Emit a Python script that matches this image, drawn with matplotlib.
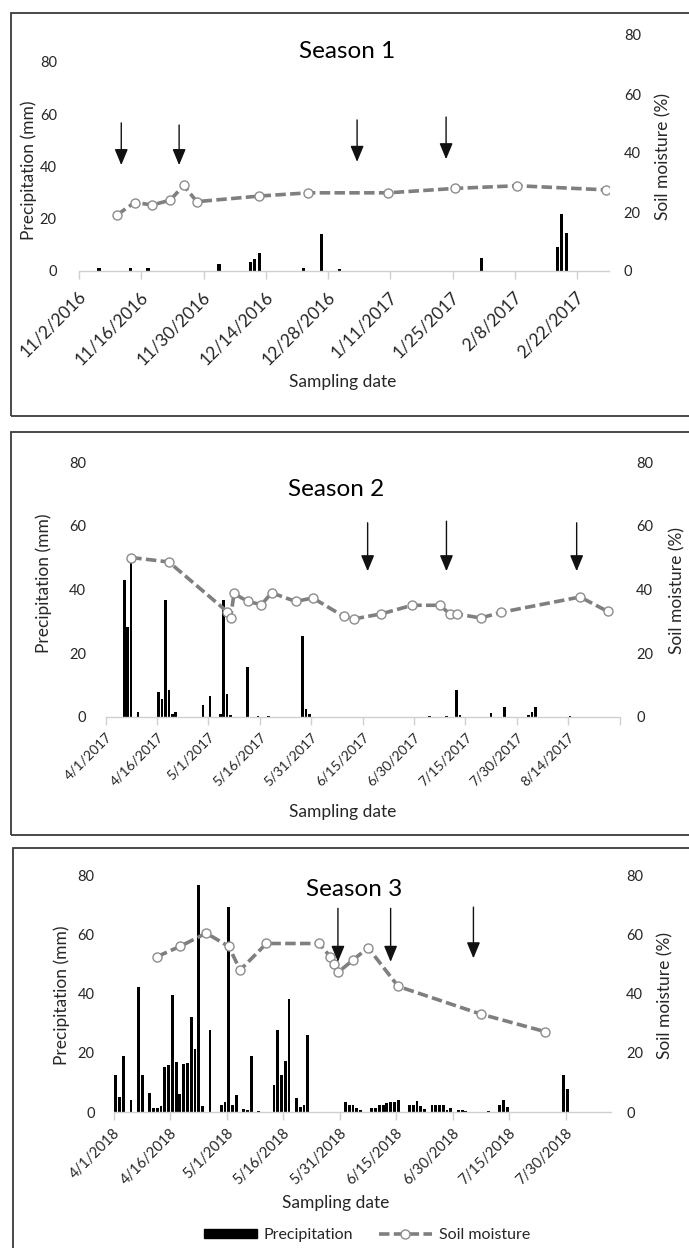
import matplotlib
matplotlib.use("Agg")
import matplotlib.pyplot as plt
from matplotlib.lines import Line2D
from matplotlib.patches import Patch, Rectangle
from matplotlib.transforms import ScaledTranslation
import pandas as pd

plt.rcParams["font.family"] = ["Lato", "DejaVu Sans"]

TEXT = "#262626"
LINE = "#7f7f7f"
AXIS = "#d0d0d0"

# ---- Season 1 (Nov 2016 - Feb 2017)
s1_rain_dates = ["11/6/2016", "11/13/2016", "11/17/2016", "12/3/2016", "12/10/2016",
                 "12/11/2016", "12/12/2016", "12/22/2016", "12/26/2016", "12/30/2016",
                 "1/31/2017", "2/17/2017", "2/18/2017", "2/19/2017"]
s1_rain_mm = [1.2, 1.2, 1.2, 2.7, 3.3, 4.5, 6.8, 1.2, 14.1, 0.8, 5.1, 9.3, 21.7, 14.4]
s1_soil_dates = ["11/10/2016", "11/14/2016", "11/18/2016", "11/22/2016", "11/25/2016",
                 "11/28/2016", "12/12/2016", "12/23/2016", "1/10/2017", "1/25/2017",
                 "2/8/2017", "2/28/2017"]
s1_soil_pct = [19.0, 23.2, 22.4, 24.0, 29.0, 23.5, 25.4, 26.5, 26.5, 28.0, 28.9, 27.5]
s1_arrow_dates = ["11/11/2016", "11/24/2016", "1/3/2017", "1/23/2017"]
s1_arrow_top = [50.2, 49.5, 51.2, 52.2]
s1_arrow_tip = [35.9, 35.9, 37.0, 37.9]
s1_tick_labels = ["11/2/2016", "11/16/2016", "11/30/2016", "12/14/2016", "12/28/2016",
                  "1/11/2017", "1/25/2017", "2/8/2017", "2/22/2017"]
s1_x_end = "3/1/2017"

# ---- Season 2 (Apr - Aug 2017)
s2_rain_dates = ["4/6/2017", "4/7/2017", "4/8/2017", "4/10/2017", "4/16/2017", "4/17/2017",
                 "4/18/2017", "4/19/2017", "4/20/2017", "4/21/2017", "4/29/2017", "5/1/2017",
                 "5/4/2017", "5/5/2017", "5/6/2017", "5/7/2017", "5/12/2017", "5/15/2017",
                 "5/18/2017", "5/28/2017", "5/29/2017", "5/30/2017", "7/4/2017", "7/9/2017",
                 "7/12/2017", "7/13/2017", "7/22/2017", "7/26/2017", "8/2/2017", "8/3/2017",
                 "8/4/2017", "8/14/2017"]
s2_rain_mm = [43.0, 28.3, 48.3, 1.6, 7.9, 5.5, 36.7, 8.4, 0.8, 1.6, 3.7, 6.5,
              0.8, 36.7, 7.0, 0.5, 15.5, 0.3, 0.3, 25.4, 2.3, 0.9, 0.3, 0.3,
              8.4, 0.4, 1.3, 3.2, 0.4, 1.6, 3.2, 0.3]
s2_soil_dates = ["4/8/2017", "4/19/2017", "5/6/2017", "5/7/2017", "5/8/2017", "5/12/2017",
                 "5/16/2017", "5/19/2017", "5/26/2017", "5/31/2017", "6/9/2017", "6/12/2017",
                 "6/20/2017", "6/29/2017", "7/7/2017", "7/10/2017", "7/12/2017", "7/19/2017",
                 "7/25/2017", "8/17/2017", "8/25/2017"]
s2_soil_pct = [50.0, 48.6, 33.0, 31.0, 38.7, 36.2, 35.2, 38.9, 36.2, 37.3, 31.5, 30.7,
               32.3, 35.0, 35.0, 32.3, 32.3, 31.0, 32.8, 37.6, 33.1]
s2_arrow_dates = ["6/16/2017", "7/9/2017", "8/16/2017"]
s2_arrow_top = [60.9, 61.4, 60.9]
s2_arrow_tip = [45.7, 45.7, 45.7]
s2_tick_labels = ["4/1/2017", "4/16/2017", "5/1/2017", "5/16/2017", "5/31/2017", "6/15/2017",
                  "6/30/2017", "7/15/2017", "7/30/2017", "8/14/2017"]
s2_x_end = "8/29/2017"

# ---- Season 3 (Apr - Jul 2018)
s3_rain_dates = ["4/1/2018", "4/2/2018", "4/3/2018", "4/5/2018", "4/7/2018", "4/8/2018",
                 "4/10/2018", "4/11/2018", "4/12/2018", "4/13/2018", "4/14/2018", "4/15/2018",
                 "4/16/2018", "4/17/2018", "4/18/2018", "4/19/2018", "4/20/2018", "4/21/2018",
                 "4/22/2018", "4/23/2018", "4/24/2018", "4/26/2018", "4/29/2018", "4/30/2018",
                 "5/1/2018", "5/2/2018", "5/3/2018", "5/5/2018", "5/6/2018", "5/7/2018",
                 "5/9/2018", "5/13/2018", "5/14/2018", "5/15/2018", "5/16/2018", "5/17/2018",
                 "5/19/2018", "5/20/2018", "5/21/2018", "5/22/2018",
                 "6/1/2018", "6/2/2018", "6/3/2018", "6/4/2018", "6/5/2018",
                 "6/8/2018", "6/9/2018", "6/10/2018", "6/11/2018", "6/12/2018", "6/13/2018",
                 "6/14/2018", "6/15/2018", "6/18/2018", "6/19/2018", "6/20/2018", "6/21/2018",
                 "6/22/2018", "6/24/2018", "6/25/2018", "6/26/2018", "6/27/2018", "6/28/2018",
                 "6/29/2018", "7/1/2018", "7/2/2018", "7/3/2018", "7/9/2018", "7/12/2018",
                 "7/13/2018", "7/14/2018", "7/29/2018", "7/30/2018"]
s3_rain_mm = [12.6, 5.0, 18.8, 4.2, 42.2, 12.6, 6.5, 1.5, 1.5, 2.0, 15.2, 15.8,
              39.6, 16.9, 6.2, 16.4, 16.7, 32.0, 21.4, 76.8, 2.0, 27.9, 2.2, 3.4,
              69.3, 2.5, 5.6, 0.9, 0.6, 18.9, 0.5, 9.2, 27.9, 12.4, 17.3, 38.3,
              4.7, 1.7, 2.5, 25.9,
              3.3, 2.5, 2.3, 1.5, 0.8,
              1.2, 1.5, 2.5, 2.5, 3.0, 3.3,
              3.5, 4.0, 2.5, 2.5, 3.8, 2.0,
              1.0, 2.5, 2.5, 2.5, 2.5, 0.8,
              1.2, 0.8, 0.8, 0.3, 0.3, 2.4,
              4.2, 1.6, 12.5, 7.8]
s3_soil_dates = ["4/12/2018", "4/18/2018", "4/25/2018", "5/1/2018", "5/4/2018", "5/11/2018",
                 "5/25/2018", "5/28/2018", "5/29/2018", "5/30/2018", "6/3/2018", "6/7/2018",
                 "6/15/2018", "7/7/2018", "7/24/2018"]
s3_soil_pct = [52.6, 56.0, 60.5, 56.0, 48.0, 57.0, 57.0, 52.5, 50.0, 47.2, 51.4, 55.6,
               42.5, 33.1, 27.2]
s3_arrow_dates = ["5/30/2018", "6/13/2018", "7/5/2018"]
s3_arrow_top = [68.9, 68.9, 69.3]
s3_arrow_tip = [50.8, 50.8, 52.0]
s3_tick_labels = ["4/1/2018", "4/16/2018", "5/1/2018", "5/16/2018", "5/31/2018", "6/15/2018",
                  "6/30/2018", "7/15/2018", "7/30/2018"]
s3_x_end = "8/11/2018"

W, H = 689, 1248
fig = plt.figure(figsize=(W / 100, H / 100), dpi=100)


def fx(x):
    return x / W


def fy(y):
    return 1 - y / H


def to_dates(values):
    return pd.to_datetime(values, format="%m/%d/%Y")


def draw_panel(box, axes_px, left_max, rain_dates, rain_mm, soil_dates, soil_pct,
               arrow_dates, arrow_top, arrow_tip, tick_labels, x_end, title,
               title_px, ylab_px, y2lab_px, xlab_px, lpad, rpad, date_size,
               date_pad, end_tick=False):
    # panel frame
    bx0, by0, bx1, by1 = box
    fig.add_artist(Rectangle((fx(bx0), fy(by1)), (bx1 - bx0) / W, (by1 - by0) / H,
                             transform=fig.transFigure, fill=False,
                             edgecolor="#3a3a3a", lw=1.3, clip_on=False))

    x0, y0, x1, y1 = axes_px
    ax = fig.add_axes([fx(x0), fy(y1), (x1 - x0) / W, (y1 - y0) / H])
    ax2 = ax.twinx()

    half_day = pd.Timedelta(hours=12)
    ax.bar(to_dates(rain_dates) + half_day, rain_mm, width=0.75, color="black", zorder=2)
    ax2.plot(to_dates(soil_dates) + half_day, soil_pct, color=LINE, lw=2.6,
             ls=(0, (2.9, 1.2)), marker="o", ms=6.5, mfc="white", mec="#8c8c8c",
             mew=1.0, zorder=3)

    for d, top, tip in zip(to_dates(arrow_dates) + half_day, arrow_top, arrow_tip):
        ax2.annotate("", xy=(d, tip), xytext=(d, top),
                     arrowprops=dict(arrowstyle="-|>,head_length=0.65,head_width=0.27",
                                     mutation_scale=15, lw=1.0, color="#111111",
                                     shrinkA=0, shrinkB=0))

    ticks = to_dates(tick_labels)
    ax.set_xlim(ticks[0], pd.to_datetime(x_end, format="%m/%d/%Y"))
    ax.set_xticks(ticks)
    ax.set_xticklabels(tick_labels)
    if end_tick:
        ax.set_xticks([pd.to_datetime(x_end, format="%m/%d/%Y")], minor=True)
        ax.tick_params(axis="x", which="minor", length=5.5, width=1, color=AXIS)

    ax.set_ylim(0, left_max)
    ax.set_yticks([0, 20, 40, 60, 80])
    ax2.set_ylim(0, 80)
    ax2.set_yticks([0, 20, 40, 60, 80])

    for a in (ax, ax2):
        for s in a.spines.values():
            s.set_visible(False)
        a.set_facecolor("none")
    ax.spines["bottom"].set_visible(True)
    ax.spines["bottom"].set_color(AXIS)
    ax.spines["bottom"].set_linewidth(1.0)

    ax.tick_params(axis="x", length=5.5, width=1, color=AXIS, pad=date_pad,
                   labelsize=date_size, labelcolor=TEXT)
    ax.tick_params(axis="y", length=0, pad=lpad, labelsize=10.5, labelcolor=TEXT)
    ax2.tick_params(axis="y", length=0, pad=rpad, labelsize=10.5, labelcolor=TEXT)
    shift = ScaledTranslation(3 / 72, 0, fig.dpi_scale_trans)
    for lab in ax.get_xticklabels():
        lab.set_rotation(45)
        lab.set_ha("right")
        lab.set_va("center")
        lab.set_rotation_mode("anchor")
        lab.set_transform(lab.get_transform() + shift)

    fig.text(fx(title_px[0]), fy(title_px[1]), title, ha="center", va="center",
             fontsize=17.5, color="black")
    fig.text(fx(ylab_px[0]), fy(ylab_px[1]), "Precipitation (mm)", rotation=90,
             ha="center", va="center", fontsize=12.5, color=TEXT)
    fig.text(fx(y2lab_px[0]), fy(y2lab_px[1]), "Soil moisture (%)", rotation=90,
             ha="center", va="center", fontsize=12.5, color=TEXT)
    fig.text(fx(xlab_px[0]), fy(xlab_px[1]), "Sampling date", ha="center",
             va="center", fontsize=12.5, color=TEXT)
    return ax


draw_panel((11, 13, 700, 416), (79, 35, 608.5, 271), 90.2,
           s1_rain_dates, s1_rain_mm, s1_soil_dates, s1_soil_pct,
           s1_arrow_dates, s1_arrow_top, s1_arrow_tip, s1_tick_labels, s1_x_end,
           "Season 1", (347, 52), (28.6, 170), (663, 157), (343, 381.7), 16, 11,
           12.5, 11)

draw_panel((11, 432, 700, 835), (105.5, 462, 619.5, 716.7), 80,
           s2_rain_dates, s2_rain_mm, s2_soil_dates, s2_soil_pct,
           s2_arrow_dates, s2_arrow_top, s2_arrow_tip, s2_tick_labels, s2_x_end,
           "Season 2", (336, 490), (44, 583), (677, 590), (343, 811.7), 14, 12,
           10, 7.5, end_tick=True)

draw_panel((13, 848, 700, 1260), (114, 875.5, 610.8, 1112), 80,
           s3_rain_dates, s3_rain_mm, s3_soil_dates, s3_soil_pct,
           s3_arrow_dates, s3_arrow_top, s3_arrow_tip, s3_tick_labels, s3_x_end,
           "Season 3", (353.7, 890), (61.5, 995), (665.7, 995.5), (336, 1203), 14, 11,
           10.5, 8)

handles = [
    Patch(facecolor="black", edgecolor="black"),
    Line2D([], [], color=LINE, lw=2.6, ls=(0, (2.9, 1.2)), marker="o", ms=6.5,
           mfc="white", mec="#8c8c8c", mew=1.0),
]
fig.legend(handles, ["Precipitation", "Soil moisture"], loc="center",
           bbox_to_anchor=(fx(367), fy(1235)), ncol=2, frameon=False, fontsize=11.5,
           handlelength=3.3, handleheight=0.55, handletextpad=0.45, columnspacing=1.6,
           labelcolor=TEXT)

fig.savefig("out.png", dpi=100)
